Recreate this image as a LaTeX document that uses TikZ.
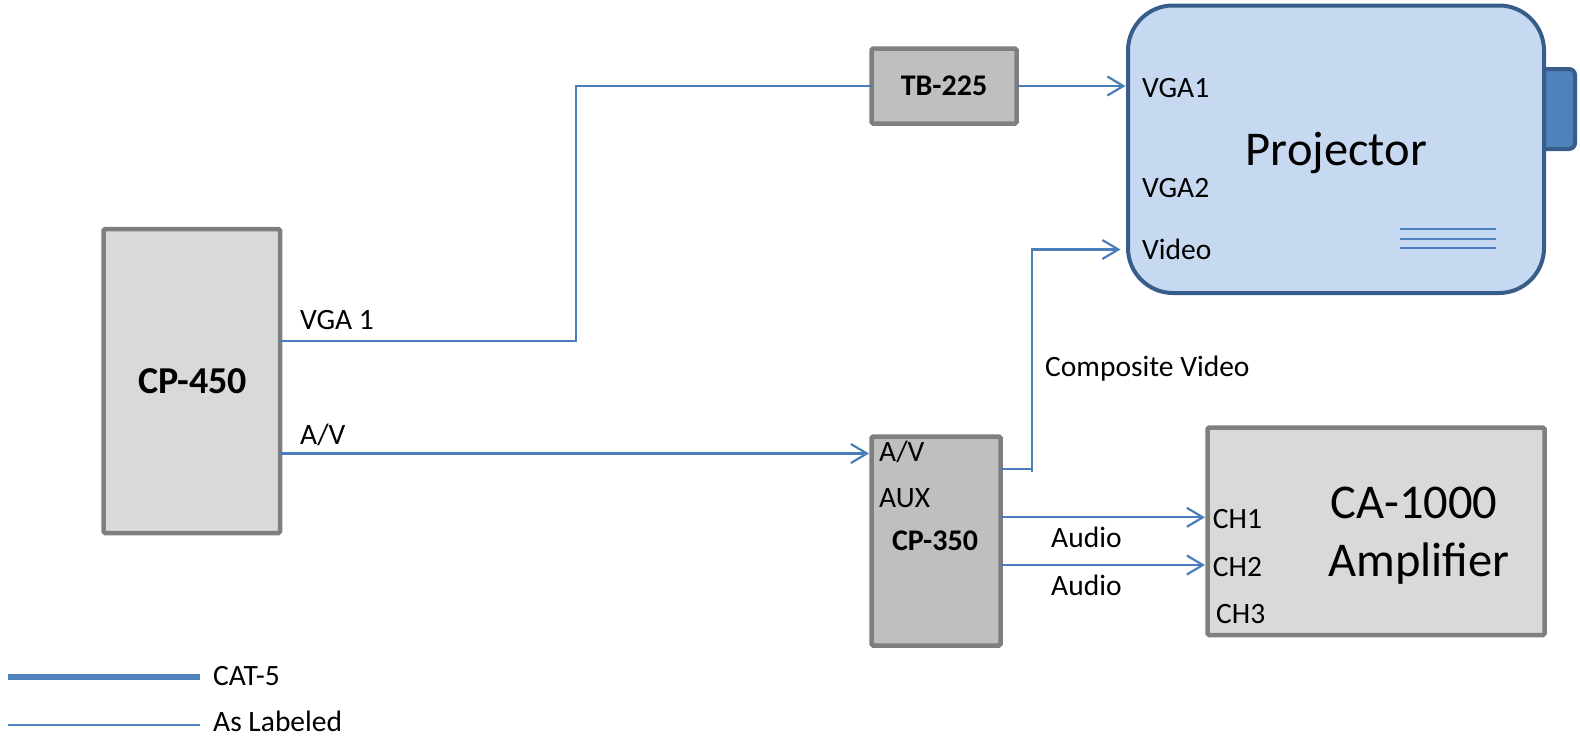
\documentclass[tikz,border=0pt]{standalone}
\usepackage{fontspec}
\setmainfont{Carlito}
\usetikzlibrary{arrows.meta}
\definecolor{boxline}{HTML}{7F7F7F}
\definecolor{lightfill}{HTML}{D9D9D9}
\definecolor{darkfill}{HTML}{BFBFBF}
\definecolor{projfill}{HTML}{C6D9F1}
\definecolor{projline}{HTML}{385D8A}
\definecolor{tabfill}{HTML}{4F81BD}
\definecolor{wire}{HTML}{4A7EBB}
\begin{document}
\begin{tikzpicture}[x=1pt,y=-1pt,
  box/.style={draw=boxline, line width=4.5pt, rounded corners=1.5pt, inner sep=0pt, outer sep=0pt},
  lightbox/.style={box, fill=lightfill},
  darkbox/.style={box, fill=darkfill},
  conn/.style={draw=wire, line width=2.2pt},
  arr/.style={conn, -{Straight Barb[length=16pt,width=19pt]}},
  lbl/.style={anchor=base west, inner sep=0pt, font=\fontsize{29.5}{34}\selectfont},
  big/.style={anchor=base, inner sep=0pt, font=\fontsize{48.5}{56}\selectfont},
  boldlbl/.style={anchor=base, inner sep=0pt, font=\bfseries\fontsize{30}{34}\selectfont},
]
\useasboundingbox (0,0) rectangle (1580,739);

% projector tab
\draw[fill=tabfill, draw=projline, line width=4pt, rounded corners=6pt] (1530,69) rectangle (1575,149);

% boxes
\node[lightbox, minimum width=176.5pt, minimum height=304pt] (cp450) at (191.75,381) {};
\node[darkbox, minimum width=145pt, minimum height=75pt] (tb225) at (944,86) {};
\node[draw=projline, fill=projfill, line width=4pt, rounded corners=45pt, inner sep=0pt, outer sep=0pt,
      minimum width=416pt, minimum height=287.5pt] (proj) at (1336,149.25) {};
\node[darkbox, minimum width=129pt, minimum height=209pt] (cp350) at (936,541) {};
\node[lightbox, minimum width=337pt, minimum height=207.5pt] (ca) at (1376,531.25) {};

% box titles
\node[anchor=base, inner sep=0pt, font=\bfseries\fontsize{38}{42}\selectfont] (t450) at (192.5,393) {CP-450};
\node[boldlbl] (t225) at (944,95) {TB-225};
\node[boldlbl] (t350) at (935,550) {CP-350};
\node[big] (tproj) at (1336.5,165) {Projector};
\node[big] (tca1) at (1414,518.3) {CA-1000};
\node[big] (tca2) at (1419,576.7) {Amplifier};

% port labels
\node[lbl] (pvga1) at (1142,97.3) {VGA1};
\node[lbl] (pvga2) at (1142,197.3) {VGA2};
\node[lbl] (pvideo) at (1142,259) {Video};
\node[lbl] (pav) at (879,461.7) {A/V};
\node[lbl] (paux) at (879,507) {AUX};
\node[lbl] (pch1) at (1212.7,528) {CH1};
\node[lbl] (pch2) at (1212.7,576.7) {CH2};
\node[lbl] (pch3) at (1216,623.3) {CH3};

% projector vent lines
\draw[draw=tabfill, line width=2pt] (1400,229) -- (1496,229);
\draw[draw=tabfill, line width=2pt] (1400,238.7) -- (1496,238.7);
\draw[draw=tabfill, line width=2pt] (1400,248.3) -- (1496,248.3);

% connector coordinates
\coordinate (vgaout) at (280,340.7);
\coordinate (vgabend) at (576,86);
\coordinate (avout) at (280,453.5);
\coordinate (avin) at (869,453.5);
\coordinate (cvout) at (1000.5,468.7);
\coordinate (cvbend) at (1031.7,468.7);
\coordinate (cvtick) at (1031.7,471.7);
\coordinate (vidin) at (1120.5,249.5);
\coordinate (tbin) at (1125.5,86);
\coordinate (au1out) at (1000.5,517.3);
\coordinate (au1in) at (1205,517.3);
\coordinate (au2out) at (1000.5,565);
\coordinate (au2in) at (1205,565);

% connectors
\draw[conn] (vgaout) -| (vgabend) -- (tb225.west);
\draw[arr] (tb225.east) -- (tbin);
\draw[arr] (avout) -- (avin);
\draw[conn] (cvout) -- (cvbend);
\draw[arr] (cvtick) |- (vidin);
\draw[arr] (au1out) -- (au1in);
\draw[arr] (au2out) -- (au2in);

% connector labels
\node[lbl] (lvga) at (300,329) {VGA 1};
\node[lbl] (lav) at (300,444) {A/V};
\node[lbl] (lcv) at (1045,376.7) {Composite Video};
\node[lbl] (lau1) at (1051,547.7) {Audio};
\node[lbl] (lau2) at (1051,595) {Audio};

% legend
\coordinate (lg1a) at (8,676.7);
\coordinate (lg1b) at (200,676.7);
\coordinate (lg2a) at (8,725);
\coordinate (lg2b) at (200,725);
\draw[draw=tabfill, line width=6pt] (lg1a) -- (lg1b);
\draw[draw=tabfill, line width=2.6pt] (lg2a) -- (lg2b);
\node[lbl] (lcat) at (213,685) {CAT-5};
\node[lbl] (llab) at (213,731.7) {As Labeled};
\end{tikzpicture}
\end{document}
